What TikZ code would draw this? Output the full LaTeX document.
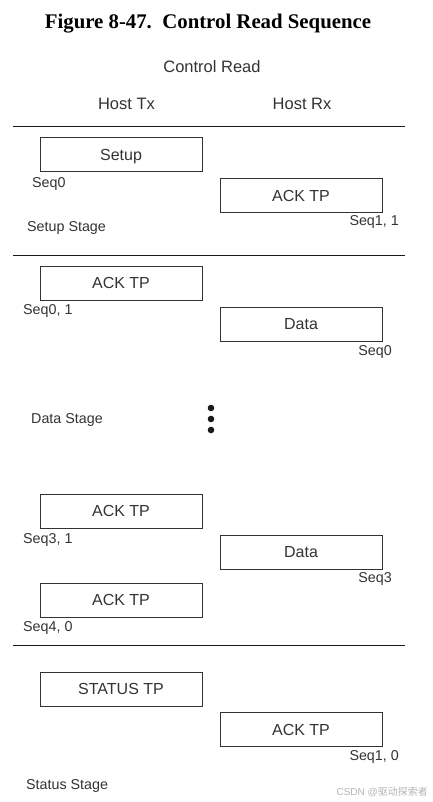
\documentclass[tikz,border=0pt]{standalone}
\usepackage{fontspec}
\setmainfont{Liberation Sans}
\newfontfamily\titlefont{Liberation Serif}
\newfontfamily\cjkfont{Noto Sans CJK SC}
\definecolor{ink}{HTML}{333333}
\definecolor{wm}{HTML}{B4B4B4}
\begin{document}
\begin{tikzpicture}[x=1pt,y=-1pt,
  pkt/.style={draw=ink,line width=1pt,minimum width=162pt,minimum height=34pt,inner sep=0pt,
    text=ink,font=\fontsize{16}{18}\selectfont,text height=11.5pt,text depth=-1.5pt},
  lbl/.style={inner sep=0pt,text=ink,font=\fontsize{14.3}{16}\selectfont},
  hdr/.style={inner sep=0pt,text=ink,font=\fontsize{16.5}{19}\selectfont},
  sep/.style={line width=1pt,draw=black!90}]
\useasboundingbox (0,0) rectangle (432,802);
% title and headers
\node[anchor=base,inner sep=0pt,font=\titlefont\bfseries\fontsize{20.8}{24}\selectfont] (title) at (208,29) {Figure 8-47.\ \ Control Read Sequence};
\node[hdr,anchor=base] (ctrl) at (212,72.5) {Control Read};
\node[hdr,anchor=base] (tx) at (126.5,110) {Host Tx};
\node[hdr,anchor=base] (rx) at (302,110) {Host Rx};
% separators
\coordinate (s1l) at (13,127); \coordinate (s1r) at (405,127);
\coordinate (s2l) at (13,255); \coordinate (s2r) at (405,255);
\coordinate (s3l) at (13,645); \coordinate (s3r) at (405,645);
\draw[sep] (s1l) -- (s1r);
\draw[sep] (s2l) -- (s2r);
\draw[sep] (s3l) -- (s3r);
% setup stage
\node[pkt] (setup) at (121,155) {Setup};
\node[lbl,anchor=base west] (seqa) at (32,187.5) {Seq0};
\node[pkt] (ack1) at (301,195.5) {ACK TP};
\node[lbl,anchor=base east] (seqb) at (399,225.5) {Seq1, 1};
\node[lbl,anchor=base west] (setupst) at (27,232) {Setup Stage};
% data stage
\node[pkt] (ack2) at (121,283) {ACK TP};
\node[lbl,anchor=base west] (seqc) at (23,314.5) {Seq0, 1};
\node[pkt] (data1) at (301,324) {Data};
\node[lbl,anchor=base east] (seqd) at (392,355.5) {Seq0};
\node[lbl,anchor=base west] (datast) at (31,423) {Data Stage};
\fill[black!90] (211,408) circle (3.3pt) (211,419) circle (3.3pt) (211,430) circle (3.3pt);
\node[pkt] (ack3) at (121,511) {ACK TP};
\node[lbl,anchor=base west] (seqe) at (23,543.5) {Seq3, 1};
\node[pkt] (data2) at (301,552) {Data};
\node[lbl,anchor=base east] (seqf) at (392,582.5) {Seq3};
\node[pkt] (ack4) at (121,600) {ACK TP};
\node[lbl,anchor=base west] (seqg) at (23,631.5) {Seq4, 0};
% status stage
\node[pkt] (status) at (121,689) {STATUS TP};
\node[pkt] (ack5) at (301,729.5) {ACK TP};
\node[lbl,anchor=base east] (seqh) at (399,760.5) {Seq1, 0};
\node[lbl,anchor=base west] (statusst) at (26,789) {Status Stage};
\node[inner sep=0pt,anchor=base east,text=wm,font=\fontsize{10}{12}\selectfont] (wmark) at (428,795) {CSDN @{\cjkfont 驱动探索者}};
\end{tikzpicture}
\end{document}
